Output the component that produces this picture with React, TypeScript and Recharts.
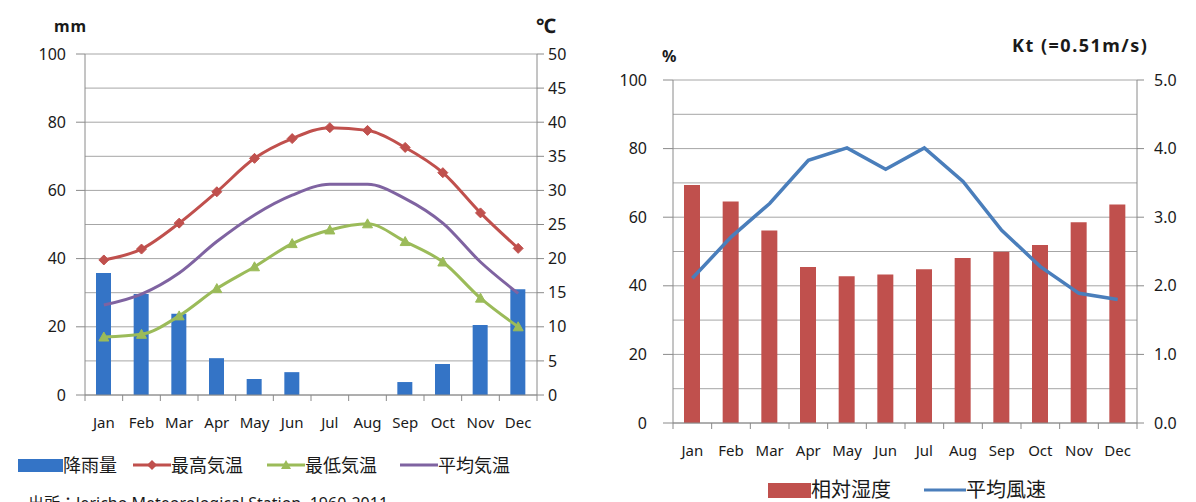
import React from "react";
import {
  ComposedChart,
  Bar,
  Line,
  XAxis,
  YAxis,
  CartesianGrid,
} from "recharts";

const months = ["Jan", "Feb", "Mar", "Apr", "May", "Jun", "Jul", "Aug", "Sep", "Oct", "Nov", "Dec"];

// left chart: rainfall (mm) and temperatures (°C)
const rainfall = [35.8, 29.6, 23.8, 10.8, 4.7, 6.7, 0, 0, 3.8, 9.1, 20.5, 31];
const tempMax = [19.8, 21.4, 25.2, 29.8, 34.7, 37.6, 39.2, 38.8, 36.3, 32.6, 26.7, 21.5];
const tempMin = [8.5, 8.9, 11.6, 15.6, 18.8, 22.2, 24.2, 25.1, 22.5, 19.5, 14.2, 10.0];
const tempAvg = [13.2, 14.8, 17.9, 22.5, 26.4, 29.3, 30.9, 30.9, 28.8, 25.2, 19.5, 14.9];

// right chart: relative humidity (%) and mean wind speed (kt)
const humidity = [69.4, 64.6, 56.1, 45.5, 42.8, 43.3, 44.8, 48.1, 49.9, 51.9, 58.5, 63.7];
const windSpeed = [2.11, 2.71, 3.2, 3.83, 4.01, 3.7, 4.01, 3.52, 2.81, 2.28, 1.89, 1.8];

const mmTicks = [0, 20, 40, 60, 80, 100];
const degTicks = [0, 5, 10, 15, 20, 25, 30, 35, 40, 45, 50];
const pctGrid = [0, 10, 20, 30, 40, 50, 60, 70, 80, 90, 100];
const ktTicks = [0, 1, 2, 3, 4, 5];

const climateData = months.map((m, i) => ({
  month: m,
  rain: rainfall[i],
  max: tempMax[i],
  min: tempMin[i],
  avg: tempAvg[i],
}));

const humidData = months.map((m, i) => ({
  month: m,
  hum: humidity[i],
  wind: windSpeed[i],
}));

const FONT = "'Noto Sans', 'Noto Sans CJK JP', sans-serif";
const AXIS = "#8a8a8a";
const GRID = "#a6a6a6";
const TXT = "#1a1a1a";

const RED = "#c0504d";
const GREEN = "#9bbb59";
const PURPLE = "#7f63a1";
const RAIN_BLUE = "#3474c6";
const WIND_BLUE = "#4a7ebb";

const MonthTick = (props: any) => {
  const { x, payload, index, step, axisY } = props;
  return (
    <g>
      <line x1={x - step / 2} x2={x - step / 2} y1={axisY} y2={axisY + 6} stroke={AXIS} />
      {index === 11 && (
        <line x1={x + step / 2} x2={x + step / 2} y1={axisY} y2={axisY + 6} stroke={AXIS} />
      )}
      <text
        x={x}
        y={axisY + 33}
        textAnchor="middle"
        fontSize={15}
        fill={TXT}
        fontFamily={FONT}
      >
        {payload.value}
      </text>
    </g>
  );
};

// humidity axis: grid every 10, labels and tick marks every 20
const PctTick = (props: any) => {
  const { y, payload, axisX } = props;
  if (payload.value % 20 !== 0) return null;
  return (
    <g>
      <line x1={axisX - 10} x2={axisX} y1={y} y2={y} stroke={AXIS} />
      <text
        x={axisX - 26}
        y={y}
        dy="0.35em"
        textAnchor="end"
        fontSize={16}
        fill={TXT}
        fontFamily={FONT}
      >
        {payload.value}
      </text>
    </g>
  );
};

const Diamond = (props: any) => {
  const { cx, cy } = props;
  if (cx == null || cy == null) return null;
  return (
    <path
      d={`M${cx},${cy - 5} L${cx + 5},${cy} L${cx},${cy + 5} L${cx - 5},${cy} Z`}
      fill={RED}
      stroke={RED}
    />
  );
};

const Triangle = (props: any) => {
  const { cx, cy } = props;
  if (cx == null || cy == null) return null;
  return (
    <path
      d={`M${cx},${cy - 5} L${cx + 5},${cy + 4} L${cx - 5},${cy + 4} Z`}
      fill={GREEN}
      stroke={GREEN}
    />
  );
};

const legendText: React.CSSProperties = {
  fontFamily: FONT,
  fontSize: 18,
  color: TXT,
  lineHeight: "20px",
};

function LegendItem({ icon, label, left, top, size = 18 }: any) {
  return (
    <div style={{ position: "absolute", left, top, display: "flex", alignItems: "center" }}>
      {icon}
      <span style={{ ...legendText, fontSize: size }}>{label}</span>
    </div>
  );
}

const lineIcon = (color: string, marker?: "diamond" | "triangle", w = 38) => (
  <svg width={w} height={14}>
    <line x1={0} x2={w} y1={7} y2={7} stroke={color} strokeWidth={3} />
    {marker === "diamond" && <path d={`M${w / 2},2 L${w / 2 + 5},7 L${w / 2},12 L${w / 2 - 5},7 Z`} fill={color} />}
    {marker === "triangle" && <path d={`M${w / 2},2 L${w / 2 + 5},11 L${w / 2 - 5},11 Z`} fill={color} />}
  </svg>
);

const rectIcon = (color: string, w: number, h: number) => (
  <svg width={w} height={h}>
    <rect x={0} y={0} width={w} height={h} fill={color} />
  </svg>
);

const unitStyle: React.CSSProperties = {
  position: "absolute",
  fontFamily: FONT,
  fontWeight: "bold",
  fontSize: 16,
  color: TXT,
  whiteSpace: "nowrap",
};

export default function App() {
  const leftStep = 452 / 12;
  const rightStep = 464 / 12;
  return (
    <div
      style={{
        position: "fixed",
        left: 0,
        top: 0,
        width: 1196,
        height: 502,
        background: "#fff",
        overflow: "hidden",
      }}
    >
      {/* left: rainfall & temperature */}
      <div style={{ position: "absolute", left: 0, top: 0 }}>
        <ComposedChart
          width={600}
          height={445}
          data={climateData}
          margin={{ top: 54, right: 0, bottom: 0, left: 0 }}
        >
          <CartesianGrid yAxisId="right" vertical={false} stroke={GRID} />
          <XAxis
            dataKey="month"
            height={50}
            interval={0}
            tickLine={false}
            axisLine={{ stroke: AXIS }}
            tick={(p: any) => <MonthTick {...p} step={leftStep} axisY={395} />}
          />
          <YAxis
            yAxisId="left"
            width={85}
            domain={[0, 100]}
            ticks={mmTicks}
            tickSize={9}
            tickMargin={10}
            tickLine={{ stroke: AXIS }}
            axisLine={{ stroke: AXIS }}
            tick={{ fontSize: 16, fill: TXT, fontFamily: FONT }}
          />
          <YAxis
            yAxisId="right"
            orientation="right"
            width={63}
            domain={[0, 50]}
            ticks={degTicks}
            tickSize={7}
            tickMargin={4}
            tickLine={{ stroke: AXIS }}
            axisLine={{ stroke: AXIS }}
            tick={{ fontSize: 16, fill: TXT, fontFamily: FONT }}
          />
          <Bar yAxisId="left" dataKey="rain" fill={RAIN_BLUE} barSize={15} isAnimationActive={false} />
          <Line
            yAxisId="right"
            type="monotone"
            dataKey="max"
            stroke={RED}
            strokeWidth={3}
            dot={<Diamond />}
            activeDot={false}
            isAnimationActive={false}
          />
          <Line
            yAxisId="right"
            type="monotone"
            dataKey="avg"
            stroke={PURPLE}
            strokeWidth={3}
            dot={false}
            activeDot={false}
            isAnimationActive={false}
          />
          <Line
            yAxisId="right"
            type="monotone"
            dataKey="min"
            stroke={GREEN}
            strokeWidth={3}
            dot={<Triangle />}
            activeDot={false}
            isAnimationActive={false}
          />
        </ComposedChart>
      </div>
      <div style={{ ...unitStyle, left: 54, top: 15, letterSpacing: 1 }}>mm</div>
      <div style={{ ...unitStyle, left: 536, top: 12, fontSize: 20 }}>℃</div>

      <LegendItem left={18} top={455} icon={rectIcon(RAIN_BLUE, 45, 13)} label="降雨量" />
      <LegendItem left={133} top={455} icon={lineIcon(RED, "diamond")} label="最高気温" />
      <LegendItem left={267} top={455} icon={lineIcon(GREEN, "triangle")} label="最低気温" />
      <LegendItem left={400} top={455} icon={lineIcon(PURPLE)} label="平均気温" />

      <div
        style={{
          position: "absolute",
          left: 28,
          top: 490,
          fontFamily: FONT,
          fontSize: 16,
          color: TXT,
          whiteSpace: "nowrap",
        }}
      >
        出所：Jericho Meteorological Station, 1960-2011
      </div>

      {/* right: humidity & wind speed */}
      <div style={{ position: "absolute", left: 600, top: 0 }}>
        <ComposedChart
          width={596}
          height={473}
          data={humidData}
          margin={{ top: 80, right: 0, bottom: 0, left: 0 }}
        >
          <CartesianGrid yAxisId="left" vertical={false} stroke={GRID} />
          <XAxis
            dataKey="month"
            height={50}
            interval={0}
            tickLine={false}
            axisLine={{ stroke: AXIS }}
            tick={(p: any) => <MonthTick {...p} step={rightStep} axisY={423} />}
          />
          <YAxis
            yAxisId="left"
            width={73}
            domain={[0, 100]}
            ticks={pctGrid}
            interval={0}
            tickLine={false}
            axisLine={{ stroke: AXIS }}
            tick={(p: any) => <PctTick {...p} axisX={73} />}
          />
          <YAxis
            yAxisId="right"
            orientation="right"
            width={59}
            domain={[0, 5]}
            ticks={ktTicks}
            tickFormatter={(v: number) => v.toFixed(1)}
            tickSize={7}
            tickMargin={10}
            tickLine={{ stroke: AXIS }}
            axisLine={{ stroke: AXIS }}
            tick={{ fontSize: 16, fill: TXT, fontFamily: FONT }}
          />
          <Bar yAxisId="left" dataKey="hum" fill={RED} barSize={16} isAnimationActive={false} />
          <Line
            yAxisId="right"
            type="linear"
            dataKey="wind"
            stroke={WIND_BLUE}
            strokeWidth={3.5}
            dot={false}
            activeDot={false}
            isAnimationActive={false}
          />
        </ComposedChart>
      </div>
      <div style={{ ...unitStyle, left: 662, top: 45 }}>%</div>
      <div style={{ ...unitStyle, left: 1012, top: 33, fontSize: 18, letterSpacing: 1.5 }}>
        Kt (=0.51m/s)
      </div>

      <LegendItem left={768} top={480} icon={rectIcon(RED, 43, 15)} label="相対湿度" size={20} />
      <LegendItem left={924} top={480} icon={lineIcon(WIND_BLUE, undefined, 42)} label="平均風速" size={20} />
    </div>
  );
}
